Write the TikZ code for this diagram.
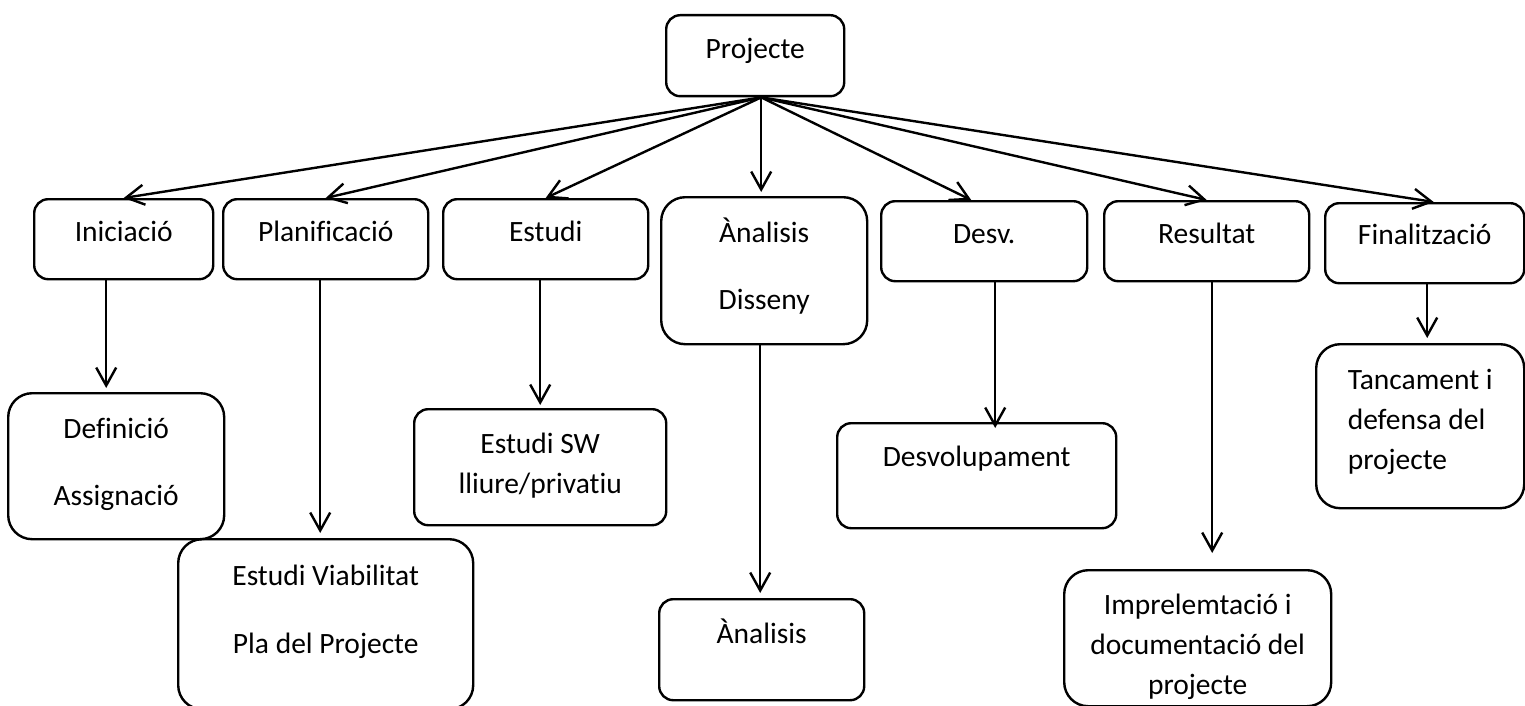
\documentclass[tikz,border=0pt]{standalone}
\usepackage{fontspec}
\setmainfont{Carlito}[Ligatures=CommonOff]
\usetikzlibrary{arrows.meta}
\newcommand{\boxlines}[1]{\begin{tabular}[t]{@{}c@{}}#1\end{tabular}}
\newcommand{\boxlinesl}[1]{\begin{tabular}[t]{@{}l@{}}#1\end{tabular}}
\tikzset{%
  % Specifications for style of nodes:
    >={Straight Barb[length=18pt,width=20pt]},
    box/.style={draw, rounded corners=14pt, line width=2.4pt, anchor=north west,
      inner xsep=0pt, inner ysep=0pt, font=\fontsize{29.5}{40}\selectfont},
    big/.style={box, rounded corners=24pt},
    arr/.style={->, line width=2.4pt},
}

\begin{document}
\begin{tikzpicture}[x=1pt,y=-1pt]
    \useasboundingbox (0,0) rectangle (1525,706);
    % top row
    \node[box, minimum width=178pt, text height=43pt, text depth=38pt] (proj) at (665,14) {\boxlines{Projecte}};
    \node[box, minimum width=179pt, text height=42pt, text depth=38pt] (inic) at (33,198) {\boxlines{Iniciació}};
    \node[box, minimum width=205pt, text height=42pt, text depth=38pt] (plan) at (222,198) {\boxlines{Planificació}};
    \node[box, minimum width=205pt, text height=42pt, text depth=38pt] (estu) at (442,198) {\boxlines{Estudi}};
    \node[big, minimum width=206pt, text height=45pt, text depth=102pt] (anal) at (660,196) {\boxlines{Ànalisis\\[27pt] Disseny}};
    \node[box, minimum width=206pt, text height=42pt, text depth=38pt] (desv) at (880,200) {\boxlines{Desv.}};
    \node[box, minimum width=205pt, text height=42pt, text depth=38pt] (resu) at (1103,200) {\boxlines{Resultat}};
    \node[box, minimum width=199pt, text height=41pt, text depth=39pt] (fina) at (1324,202) {\boxlines{Finalització}};
    % second level
    \node[big, minimum width=216pt, text height=45pt, text depth=101pt] (defi) at (7,392) {\boxlines{Definició\\[27pt] Assignació}};
    \node[big, minimum width=295pt, text height=46pt, text depth=124pt] (viab) at (177,538) {\boxlines{Estudi Viabilitat\\[28pt] Pla del Projecte}};
    \node[box, minimum width=252pt, text height=44pt, text depth=72pt] (sw) at (413,408) {\boxlines{Estudi SW\\ lliure/privatiu}};
    \node[box, minimum width=205pt, text height=44pt, text depth=57pt] (anal2) at (658,598) {\boxlines{Ànalisis}};
    \node[box, minimum width=279pt, text height=43pt, text depth=62pt] (desvo) at (836,422) {\boxlines{Desvolupament}};
    \node[big, minimum width=208pt, text height=45pt, text depth=119pt] (tanc) at (1315,343) {\boxlinesl{Tancament i\\ defensa del\\ projecte}};
    \node[big, minimum width=267pt, text height=44pt, text depth=92pt] (impl) at (1063,569) {\boxlines{Imprelemtació i\\ documentació del\\ projecte}};

    \coordinate (hub) at ([xshift=6]proj.south);
    \draw[arr] (hub) -- (inic.north);
    \draw[arr] (hub) -- (plan.north);
    \draw[arr] (hub) -- (estu.north);
    \draw[arr, shorten >=4pt] (hub) -- (hub |- anal.north);
    \draw[arr] (hub) -- ([xshift=-13]desv.north);
    \draw[arr] (hub) -- (resu.north);
    \draw[arr] (hub) -- ([xshift=9]fina.north);

    \draw[arr, shorten >=4pt] ([xshift=-17.5]inic.south) -- ([xshift=-17.5]inic.south |- defi.north);
    \draw[arr, shorten >=5pt] ([xshift=-5.5]plan.south) -- ([xshift=-5.5]plan.south |- viab.north);
    \draw[arr, shorten >=3pt] ([xshift=-5.5]estu.south) -- ([xshift=-5.5]estu.south |- sw.north);
    \draw[arr, shorten >=5pt] ([xshift=-4]anal.south) -- ([xshift=-4]anal.south |- anal2.north);
    \draw[arr, shorten >=-6pt] ([xshift=11]desv.south) -- ([xshift=11]desv.south |- desvo.north);
    \draw[arr, shorten >=16pt] ([xshift=5.5]resu.south) -- ([xshift=5.5]resu.south |- impl.north);
    \draw[arr, shorten >=5pt] ([xshift=2.5]fina.south) -- ([xshift=2.5]fina.south |- tanc.north);
\end{tikzpicture}
\end{document}
